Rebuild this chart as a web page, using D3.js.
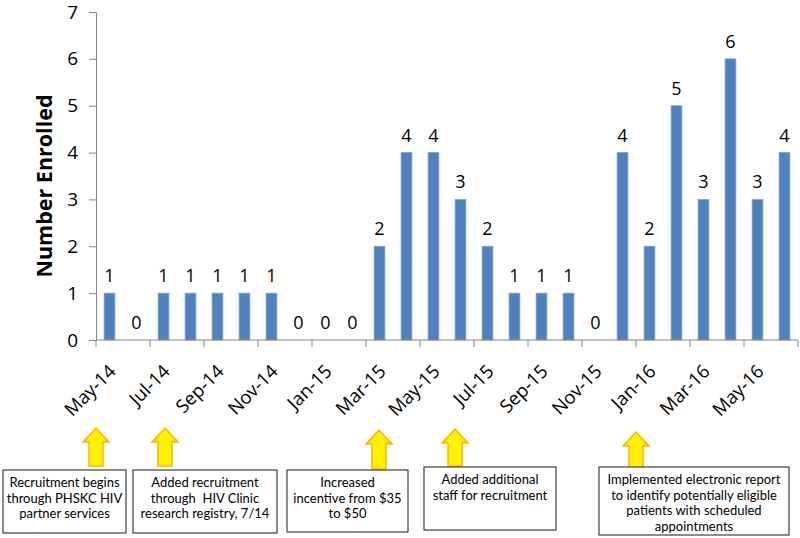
<!DOCTYPE html>
<html>
<head>
<meta charset="utf-8">
<script src="https://cdn.jsdelivr.net/npm/d3@7"></script>
<style>
  html, body { margin: 0; padding: 0; background: #fff; }
  svg { display: block; font-family: "Open Sans", Lato, sans-serif; }
</style>
</head>
<body>
<svg id="chart" width="800" height="538"></svg>
<script>
// ---- data ----
const months = ["May-14","Jun-14","Jul-14","Aug-14","Sep-14","Oct-14","Nov-14","Dec-14",
  "Jan-15","Feb-15","Mar-15","Apr-15","May-15","Jun-15","Jul-15","Aug-15","Sep-15","Oct-15",
  "Nov-15","Dec-15","Jan-16","Feb-16","Mar-16","Apr-16","May-16","Jun-16"];
const enrolled = [1,0,1,1,1,1,1,0,0,0,2,4,4,3,2,1,1,1,0,4,2,5,3,6,3,4];
const yTicks = [0,1,2,3,4,5,6,7];
const yTitle = "Number Enrolled";
const annotationTexts = [
  ["Recruitment begins", "through PHSKC HIV", "partner services"],
  ["Added recruitment", "through  HIV Clinic", "research registry, 7/14"],
  ["Increased", "incentive from $35", "to $50"],
  ["Added additional", "staff for recruitment"],
  ["Implemented electronic report", "to identify potentially eligible", "patients with scheduled", "appointments"]
];

// ---- layout ----
const svg = d3.select("#chart");
const plot = { left: 96, right: 798, top: 12, bottom: 340 };
const axisColor = "#868686";
const numFont = "'Open Sans', sans-serif";

const x = d3.scaleBand().domain(months).range([plot.left, plot.right]).paddingInner(0.6).paddingOuter(0.3);
const y = d3.scaleLinear().domain([0, 7]).range([plot.bottom, plot.top]);

// bars
svg.append("g").selectAll("rect").data(months).join("rect")
  .attr("x", d => x(d))
  .attr("width", x.bandwidth())
  .attr("y", (d, i) => y(enrolled[i]))
  .attr("height", (d, i) => y(0) - y(enrolled[i]))
  .attr("fill", "#4F81BD")
  .attr("stroke", "#7FA3D3")
  .attr("stroke-width", 0.8);

// data labels
svg.append("g").selectAll("text").data(months).join("text")
  .attr("x", d => x(d) + x.bandwidth() / 2)
  .attr("y", (d, i) => y(enrolled[i]) - 11)
  .attr("text-anchor", "middle")
  .attr("font-size", 18)
  .attr("font-family", numFont)
  .attr("fill", "#000")
  .text((d, i) => enrolled[i]);

// y axis
const yAxis = svg.append("g").attr("transform", `translate(${plot.left},0)`)
  .call(d3.axisLeft(y).tickValues(yTicks).tickSize(7).tickSizeOuter(0).tickPadding(11).tickFormat(d3.format("d")));
yAxis.select(".domain").attr("stroke", axisColor);
yAxis.selectAll(".tick line").attr("stroke", axisColor);
yAxis.selectAll(".tick text").attr("font-size", 19).attr("fill", "#000").attr("font-family", numFont);

// x axis line
const step = x.step();
const xStart = x.range()[0];
svg.append("line")
  .attr("x1", plot.left).attr("x2", plot.right)
  .attr("y1", y(0)).attr("y2", y(0))
  .attr("stroke", axisColor);

// x tick marks at category boundaries every 2 months
const tickIdx = d3.range(0, months.length + 1, 2);
svg.append("g").selectAll("line").data(tickIdx).join("line")
  .attr("x1", i => xStart + i * step).attr("x2", i => xStart + i * step)
  .attr("y1", y(0)).attr("y2", y(0) + 7)
  .attr("stroke", axisColor);

// x tick labels
const labelMonths = months.filter((m, i) => i % 2 === 0);
svg.append("g").selectAll("text").data(labelMonths).join("text")
  .attr("transform", d => `translate(${x(d) + x.bandwidth() / 2 + 3},${y(0) + 28}) rotate(-45)`)
  .attr("text-anchor", "end")
  .attr("dy", "0.35em")
  .attr("font-size", 18.5)
  .attr("font-family", numFont)
  .attr("fill", "#000")
  .text(d => d);

// y title
svg.append("text")
  .attr("transform", `translate(44,186) rotate(-90)`)
  .attr("text-anchor", "middle")
  .attr("dy", "0.35em")
  .attr("font-size", 21.5)
  .attr("font-weight", "bold")
  .attr("font-family", numFont)
  .attr("fill", "#000")
  .text(yTitle);

// ---- annotations ----
const defs = svg.append("defs");
const grad = defs.append("linearGradient").attr("id", "arrowGrad").attr("x1", "0").attr("x2", "1").attr("y1", "0").attr("y2", "0");
grad.append("stop").attr("offset", "0%").attr("stop-color", "#FFC000");
grad.append("stop").attr("offset", "25%").attr("stop-color", "#FFF200");
grad.append("stop").attr("offset", "75%").attr("stop-color", "#FFF200");
grad.append("stop").attr("offset", "100%").attr("stop-color", "#FFC000");

const arrows = [
  { cx: 96, top: 428, bottom: 466 },
  { cx: 165, top: 428, bottom: 466 },
  { cx: 379, top: 430, bottom: 469 },
  { cx: 455, top: 429, bottom: 466 },
  { cx: 636, top: 432, bottom: 469 }
];
const boxes = [
  { x: 3, y: 470, w: 123, h: 63 },
  { x: 133, y: 470, w: 144, h: 63 },
  { x: 287, y: 470, w: 121, h: 62 },
  { x: 424, y: 467, w: 132, h: 63 },
  { x: 599, y: 467, w: 190, h: 68 }
];

const arrowPath = a => {
  const hw = 13, sw = 7, headH = 14;
  return `M${a.cx},${a.top} L${a.cx + hw},${a.top + headH} L${a.cx + sw},${a.top + headH} L${a.cx + sw},${a.bottom} L${a.cx - sw},${a.bottom} L${a.cx - sw},${a.top + headH} L${a.cx - hw},${a.top + headH} Z`;
};
svg.append("g").selectAll("path").data(arrows).join("path")
  .attr("d", arrowPath)
  .attr("fill", "url(#arrowGrad)")
  .attr("stroke", "#FFB400")
  .attr("stroke-width", 1.5)
  .attr("stroke-linejoin", "miter");

const boxG = svg.append("g").selectAll("g").data(boxes).join("g");
boxG.append("rect")
  .attr("x", d => d.x).attr("y", d => d.y)
  .attr("width", d => d.w).attr("height", d => d.h)
  .attr("fill", "#fff").attr("stroke", "#404040").attr("stroke-width", 1.2);
boxG.each(function(d, i) {
  const g = d3.select(this);
  annotationTexts[i].forEach((line, j) => {
    g.append("text")
      .attr("x", d.x + d.w / 2)
      .attr("y", d.y + 17 + j * 15.5)
      .attr("text-anchor", "middle")
      .attr("font-size", 13)
      .attr("font-family", "Lato, sans-serif")
      .attr("fill", "#000")
      .style("white-space", "pre")
      .text(line);
  });
});
</script>
</body>
</html>
